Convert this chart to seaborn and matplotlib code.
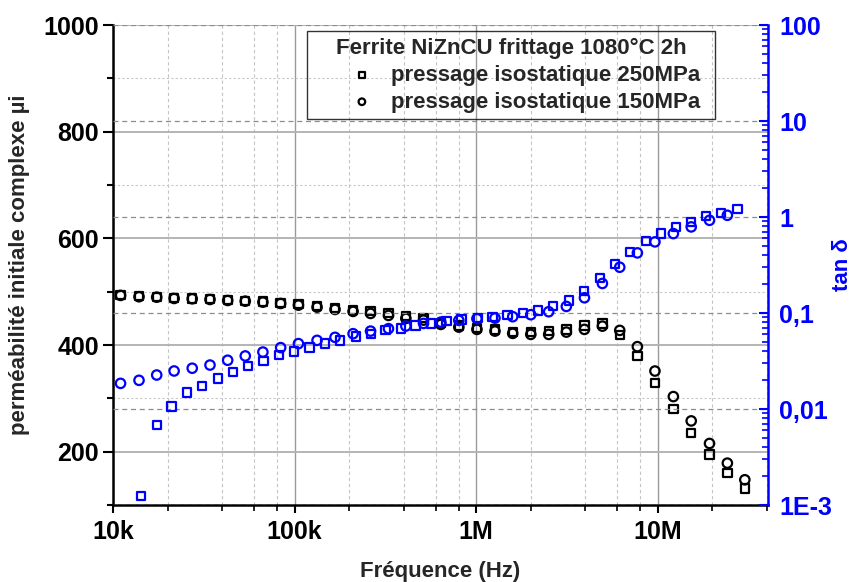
import matplotlib
matplotlib.use("Agg")
import matplotlib.pyplot as plt
import matplotlib.ticker as mticker
import seaborn as sns

# Frequencies (Hz) of the permeability sweep, shared by both µi series and tan δ at 150 MPa
freq_hz = [11.0e3, 13.9e3, 17.4e3, 21.7e3, 27.3e3, 34.2e3, 42.8e3, 53.5e3, 66.9e3, 83.8e3,
           105e3, 133e3, 167e3, 210e3, 262e3, 329e3, 410e3, 513e3, 639e3, 803e3,
           1.01e6, 1.27e6, 1.59e6, 2.00e6, 2.51e6, 3.14e6, 3.95e6, 4.96e6, 6.18e6, 7.73e6,
           9.66e6, 12.2e6, 15.3e6, 19.3e6, 24.2e6, 30.2e6]

# Complex initial permeability µi
mu_250 = [494, 491.5, 490.5, 488.5, 487.5, 486.5, 484.5, 483, 481.5, 479,
          476.6, 473.6, 469.9, 466, 463.6, 460.6, 454.2, 451.1, 441.8, 436.8,
          432.4, 429.3, 424.2, 424.2, 426.1, 429.3, 436.8, 440.5, 419.3, 379.4,
          328.2, 279.6, 234.7, 194.8, 159.8, 131.1]
mu_150 = [493, 490.5, 489.7, 487.3, 486.7, 485.4, 483.5, 482.2, 480.4, 477.9,
          474.8, 471.0, 466.7, 463.0, 459.2, 455.5, 449.9, 446.7, 438.6, 433.6,
          429.3, 426.1, 421.8, 419.9, 419.9, 424.2, 429.3, 435.4, 427.4, 396.9,
          351.2, 303.3, 257.7, 215.4, 178.5, 147.3]

# Loss tangent, 150 MPa (first 35 frequencies of freq_hz)
tan_150 = [0.0185, 0.0199, 0.0226, 0.0249, 0.0266, 0.0287, 0.0322, 0.0357, 0.0392, 0.0436,
           0.0480, 0.0519, 0.0558, 0.0609, 0.0648, 0.0687, 0.0731, 0.0779, 0.0804, 0.0838,
           0.0873, 0.0885, 0.0915, 0.0960, 0.1031, 0.1171, 0.1442, 0.2031, 0.300, 0.423,
           0.551, 0.672, 0.789, 0.924, 1.042]

# Loss tangent, 250 MPa (own frequency sweep)
freq_tan_250 = [14.3e3, 17.4e3, 21.0e3, 25.6e3, 31.0e3, 37.7e3, 45.8e3, 55.6e3, 67.5e3, 82.0e3,
                99.5e3, 121e3, 147e3, 178e3, 217e3, 263e3, 317e3, 384e3, 464e3, 563e3,
                687e3, 831e3, 1.02e6, 1.23e6, 1.49e6, 1.81e6, 2.19e6, 2.65e6, 3.24e6, 3.93e6,
                4.80e6, 5.80e6, 7.04e6, 8.59e6, 10.4e6, 12.6e6, 15.3e6, 18.5e6, 22.4e6, 27.5e6]
tan_250 = [0.00124, 0.00684, 0.0106, 0.0148, 0.0173, 0.0208, 0.0243, 0.0281, 0.0316, 0.0363,
           0.0396, 0.0436, 0.0480, 0.0519, 0.0571, 0.0609, 0.0667, 0.0692, 0.0743, 0.0779,
           0.0824, 0.0858, 0.0894, 0.0907, 0.0951, 0.1007, 0.1064, 0.1179, 0.1352, 0.1689,
           0.2300, 0.3224, 0.4347, 0.5590, 0.6722, 0.7816, 0.8809, 1.017, 1.103, 1.214]

# Axis tick labels
freq_ticks = [1e4, 1e5, 1e6, 1e7]
freq_tick_labels = ["10k", "100k", "1M", "10M"]
tan_ticks = [1e-3, 1e-2, 1e-1, 1, 10, 100]
tan_tick_labels = ["1E-3", "0,01", "0,1", "1", "10", "100"]

legend_title = "Ferrite NiZnCU frittage 1080°C 2h"
label_250 = "pressage isostatique 250MPa"
label_150 = "pressage isostatique 150MPa"

sns.set_style("ticks")
plt.rcParams["font.family"] = ["Liberation Sans", "DejaVu Sans"]
plt.rcParams["font.weight"] = "bold"

BLUE = "#0000ff"

fig, ax = plt.subplots(figsize=(8.57, 5.82), dpi=100)
fig.subplots_adjust(left=0.1319, right=0.8961, top=0.957, bottom=0.1323)
ax2 = ax.twinx()

sq = dict(marker="s", s=36, linewidth=1.6, facecolor="none")
ci = dict(marker="o", s=46, linewidth=1.6, facecolor="none")

sns.scatterplot(x=freq_hz, y=mu_250, ax=ax, edgecolor="black", label=label_250, zorder=3, **sq)
sns.scatterplot(x=freq_hz, y=mu_150, ax=ax, edgecolor="black", label=label_150, zorder=3, **ci)
sns.scatterplot(x=freq_tan_250, y=tan_250, ax=ax2, edgecolor=BLUE, legend=False, zorder=3, **sq)
sns.scatterplot(x=freq_hz[:len(tan_150)], y=tan_150, ax=ax2, edgecolor=BLUE, legend=False, zorder=3, **ci)

# x axis
ax.set_xscale("log")
ax.set_xlim(1e4, 4.05e7)
ax.xaxis.set_major_locator(mticker.FixedLocator(freq_ticks))
ax.xaxis.set_major_formatter(mticker.FixedFormatter(freq_tick_labels))
ax.xaxis.set_minor_locator(mticker.LogLocator(base=10, subs=[2, 4, 6, 8], numticks=20))
ax.xaxis.set_minor_formatter(mticker.NullFormatter())

# left axis
ax.set_ylim(100, 1000)
ax.yaxis.set_major_locator(mticker.MultipleLocator(200))
ax.yaxis.set_minor_locator(mticker.MultipleLocator(100))

# right axis
ax2.set_yscale("log")
ax2.set_ylim(1e-3, 100)
ax2.yaxis.set_major_locator(mticker.FixedLocator(tan_ticks))
ax2.yaxis.set_major_formatter(mticker.FixedFormatter(tan_tick_labels))
ax2.yaxis.set_minor_locator(mticker.LogLocator(base=10, subs=range(2, 10), numticks=20))
ax2.yaxis.set_minor_formatter(mticker.NullFormatter())

# grids
ax.set_axisbelow(True)
ax.grid(which="major", axis="x", color="#9a9a9a", lw=1.0, ls="-")
ax.grid(which="minor", axis="x", color="#c4c4c4", lw=0.8, ls=(0, (3, 2.5)))
ax.grid(which="major", axis="y", color="#b4b4b4", lw=1.4, ls="-")
ax.grid(which="minor", axis="y", color="#c8c8c8", lw=0.8, ls=(0, (2, 2)))
ax2.grid(which="major", axis="y", color="#8c8c8c", lw=0.9, ls=(0, (4, 3)))
ax2.grid(which="minor", axis="y", visible=False)

# spines
for s in ("top", "right"):
    ax.spines[s].set_visible(False)
for s in ("top", "left", "bottom"):
    ax2.spines[s].set_visible(False)
for s in ("left", "bottom"):
    ax.spines[s].set_linewidth(1.8)
    ax.spines[s].set_color("black")
ax2.spines["right"].set_linewidth(1.8)
ax2.spines["right"].set_color(BLUE)

# ticks
ax.tick_params(axis="x", which="major", direction="out", length=6, width=1.5,
               labelsize=18, pad=5, colors="black", bottom=True, top=False)
ax.tick_params(axis="x", which="minor", direction="out", length=4, width=1.2,
               bottom=True, top=False, colors="black")
ax.tick_params(axis="y", which="major", direction="out", length=7, width=1.5,
               labelsize=18, pad=3, colors="black", left=True, right=False)
ax.tick_params(axis="y", which="minor", direction="out", length=4.5, width=1.5,
               left=True, right=False, colors="black")
ax2.tick_params(axis="y", which="major", direction="in", length=6.5, width=1.5,
                labelsize=18, pad=8, colors=BLUE, right=True, left=False)
ax2.tick_params(axis="y", which="minor", direction="in", length=4, width=1.2,
                colors=BLUE, right=True, left=False)
for lab in ax.get_xticklabels() + ax.get_yticklabels() + ax2.get_yticklabels():
    lab.set_fontweight("bold")

# labels
ax.set_xlabel("Fréquence (Hz)", fontsize=16, fontweight="bold", labelpad=12)
ax.set_ylabel("perméabilité initiale complexe µi", fontsize=16, fontweight="bold")
ax.yaxis.set_label_coords(-0.127, 0.5)
ax2.set_ylabel("tan δ", fontsize=16, fontweight="bold", color=BLUE)
ax2.yaxis.set_label_coords(1.098, 0.5)

# legend
handles, labels = ax.get_legend_handles_labels()
leg = ax.legend(handles, labels, title=legend_title, loc="upper left",
                bbox_to_anchor=(0.296, 0.987, 0.623, 0.0), mode="expand",
                frameon=True, fancybox=False,
                prop={"size": 16, "weight": "bold"},
                title_fontproperties={"size": 16, "weight": "bold"},
                labelspacing=0.26, handletextpad=-0.87, borderpad=0.3,
                borderaxespad=0, markerscale=0.7, handlelength=4.35)
leg.get_frame().set_edgecolor("black")
leg.get_frame().set_linewidth(1.0)
leg.get_frame().set_facecolor("none")

fig.savefig("out.png", dpi=100)
